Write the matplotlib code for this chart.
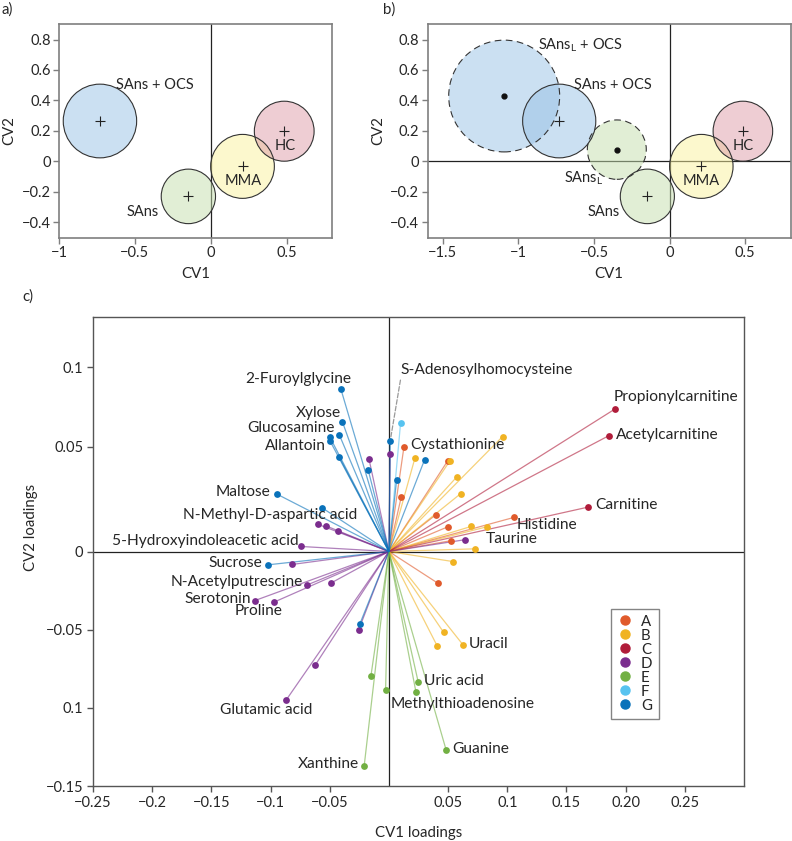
import matplotlib
matplotlib.use('Agg')
import matplotlib.pyplot as plt
from matplotlib.patches import Circle
from matplotlib.lines import Line2D

plt.rcParams['font.family'] = ['Lato', 'DejaVu Sans']
TXT = '#262626'
SPINE = '#7f7f7f'

# ---------------- Panels a / b : group centroids (CV1, CV2) and radii ----------------
grp_names = ['SAns + OCS', 'SAns', 'MMA', 'HC']
grp_x = [-0.73, -0.147, 0.21, 0.485]
grp_y = [0.265, -0.23, -0.033, 0.198]
grp_r = [0.242, 0.179, 0.21, 0.197]
grp_fill = [(0.60, 0.76, 0.90, 0.5), (0.77, 0.87, 0.68, 0.5),
            (0.98, 0.95, 0.61, 0.5), (0.87, 0.61, 0.66, 0.5)]

# extra groups in panel b (dashed circles)
grpL_names = ['SAns$_\\mathregular{L}$ + OCS', 'SAns$_\\mathregular{L}$']
grpL_x = [-1.094, -0.349]
grpL_y = [0.429, 0.077]
grpL_r = [0.367, 0.195]
grpL_fill = [(0.60, 0.76, 0.90, 0.5), (0.77, 0.87, 0.68, 0.5)]

# label placement for panels (in data units, same units as the axes)
lab_a = {'SAns + OCS': (-0.368, 0.50), 'SAns': (-0.45, -0.33), 'MMA': (0.215, -0.132), 'HC': (0.49, 0.10)}
lab_b = {'SAns + OCS': (-0.373, 0.50), 'SAns': (-0.434, -0.33), 'MMA': (0.208, -0.132), 'HC': (0.489, 0.104),
         'SAns$_\\mathregular{L}$ + OCS': (-0.59, 0.76), 'SAns$_\\mathregular{L}$': (-0.57, -0.11)}

# ---------------- Panel c : CV loadings by class ----------------
classes = ['A', 'B', 'C', 'D', 'E', 'F', 'G']
class_colors = ['#e05a2b', '#f0b323', '#b01c3a', '#7b2d8e', '#72b043', '#57c3f0', '#0a72ba']

A_names = ['Cystathionine', '', '', '', '', 'Histidine', '', '']
A_x = [0.0127, 0.0496, 0.0104, 0.0397, 0.0498, 0.1056, 0.0524, 0.0414]
A_y = [0.0669, 0.0579, 0.0348, 0.0235, 0.0158, 0.0218, 0.0069, -0.0203]

B_names = ['', '', '', '', '', '', '', 'Taurine', '', '', '', 'Uracil']
B_x = [0.0220, 0.0960, 0.0513, 0.0572, 0.0606, 0.0693, 0.0828, 0.0724, 0.0538, 0.0462, 0.0408, 0.0625]
B_y = [0.0598, 0.0735, 0.0577, 0.0476, 0.0370, 0.0160, 0.0158, 0.0017, -0.0064, -0.0517, -0.0604, -0.0596]

C_names = ['Propionylcarnitine', 'Acetylcarnitine', 'Carnitine']
C_x = [0.1911, 0.1861, 0.1683]
C_y = [0.0912, 0.0742, 0.0284]

D_names = ['', '', 'N-Methyl-D-aspartic acid', '', '', '5-Hydroxyindoleacetic acid', '', '',
           'N-Acetylputrescine', '', 'Serotonin', 'Proline', '', '', 'Glutamic acid']
D_x = [-0.0169, 0.0011, -0.0597, -0.0535, -0.0428, -0.0739, 0.0639, -0.0819,
       -0.0688, -0.0490, -0.1133, -0.0974, -0.0256, -0.0622, -0.0867]
D_y = [0.0594, 0.0624, 0.0173, 0.0165, 0.0128, 0.0032, 0.0075, -0.0083,
       -0.0213, -0.0202, -0.0314, -0.0325, -0.0502, -0.0726, -0.0949]

E_names = ['', '', 'Uric acid', 'Methylthioadenosine', 'Guanine', 'Xanthine']
E_x = [-0.0152, -0.0028, 0.0247, 0.0228, 0.0484, -0.0209]
E_y = [-0.0797, -0.0885, -0.0833, -0.0897, -0.1271, -0.1372]

F_names = ['']
F_x = [0.0099]
F_y = [0.0825]

G_names = ['2-Furoylglycine', 'Xylose', 'Glucosamine', '', 'Allantoin', '', '', 'Maltose', '',
           'S-Adenosylhomocysteine', '', '', 'Sucrose', '']
G_x = [-0.0405, -0.0393, -0.0420, -0.0501, -0.0496, -0.0420, -0.0175, -0.0946, -0.0566,
       0.0011, 0.0065, 0.0302, -0.1019, -0.0247]
G_y = [0.1037, 0.0830, 0.0748, 0.0735, 0.0705, 0.0604, 0.0521, 0.0367, 0.0280,
       0.0708, 0.0457, 0.0588, -0.0085, -0.0466]

c_names = [A_names, B_names, C_names, D_names, E_names, F_names, G_names]
c_x = [A_x, B_x, C_x, D_x, E_x, F_x, G_x]
c_y = [A_y, B_y, C_y, D_y, E_y, F_y, G_y]

# label offsets (pixels right, pixels up) and alignment
lab_off = {
    '2-Furoylglycine': (10.7, 10.3, 'right'), 'Xylose': (-1.5, 9.2, 'right'),
    'Glucosamine': (-5, 6.6, 'right'), 'Allantoin': (-4.3, -5, 'right'),
    'Maltose': (-6.7, 2, 'right'), 'N-Methyl-D-aspartic acid': (39, 9, 'right'),
    '5-Hydroxyindoleacetic acid': (-3.2, 5.3, 'right'), 'Sucrose': (-6, 1.6, 'right'),
    'N-Acetylputrescine': (-4.2, 2.5, 'right'), 'Serotonin': (-4.1, 1.7, 'right'),
    'Proline': (8.6, -8.6, 'right'), 'Glutamic acid': (-20.4, -10, 'center'),
    'Xanthine': (-5, 2, 'right'), 'Uric acid': (6, 1, 'left'),
    'Methylthioadenosine': (-25.3, -12.7, 'left'), 'Guanine': (6, 1, 'left'),
    'Uracil': (6.3, 0.7, 'left'), 'S-Adenosylhomocysteine': (10.7, 70.5, 'left'),
    'Cystathionine': (6, 1.7, 'left'), 'Propionylcarnitine': (-1.3, 12, 'left'),
    'Acetylcarnitine': (6.4, 1, 'left'), 'Carnitine': (7.4, 1.7, 'left'),
    'Histidine': (2.7, -8, 'left'), 'Taurine': (11.3, 9.6, 'left'),
}

xticks_c = [-0.25, -0.2, -0.15, -0.1, -0.05, 0.05, 0.1, 0.15, 0.2, 0.25]
xticklabels_c = ['\u22120.25', '\u22120.2', '\u22120.15', '\u22120.1', '\u22120.05',
                 '0.05', '0.1', '0.15', '0.20', '0.25']
# tick label positions as they appear in the original figure
yticks_c = [0.118, 0.067, 0, -0.05, -0.1, -0.15]
yticklabels_c = ['0.1', '0.05', '0', '\u22120.05', '0.1', '\u22120.15']

# ---------------------------------------------------------------------------
W, H = 792, 841
fig = plt.figure(figsize=(W / 100, H / 100), dpi=100)

def fr(l, t, r, b):
    return [l / W, 1 - b / H, (r - l) / W, (b - t) / H]

FS = 10.5      # tick labels, panel a/b labels
FSL = 11.2     # metabolite labels in panel c
FSA = 10.8     # axis titles

def style_ab(ax, xt):
    ax.set_ylim(-0.5, 0.9)
    ax.set_yticks([-0.4, -0.2, 0, 0.2, 0.4, 0.6, 0.8])
    ax.set_yticklabels(['\u22120.4', '\u22120.2', '0', '0.2', '0.4', '0.6', '0.8'])
    ax.set_xticks(xt)
    ax.set_xticklabels([('%g' % v).replace('-', '\u2212') for v in xt])
    for s in ax.spines.values():
        s.set_color(SPINE)
        s.set_linewidth(1.2)
    ax.tick_params(direction='out', length=4, width=1, color=SPINE, labelsize=FS, labelcolor=TXT, pad=2)
    ax.set_xlabel('CV1', fontsize=FSA, color=TXT, labelpad=5)
    ax.set_ylabel('CV2', fontsize=FSA, color=TXT, labelpad=4)
    ax.axvline(0, color='#222222', lw=0.9, zorder=0.5)

def draw_groups(ax, labs):
    for n, x, y, r, c in zip(grp_names, grp_x, grp_y, grp_r, grp_fill):
        ax.add_patch(Circle((x, y), r, facecolor=c, edgecolor='none', zorder=1))
        ax.add_patch(Circle((x, y), r, facecolor='none', edgecolor='#333333', lw=0.8, zorder=3))
        ax.plot(x, y, marker='+', color='#222222', ms=7, mew=0.8, zorder=4)
        lx, ly = labs[n]
        ax.text(lx, ly, n, fontsize=FS, color=TXT, ha='center', va='center', zorder=5)

# Panel a
axa = fig.add_axes(fr(59, 24.3, 332, 237.5))
axa.set_xlim(-1, 0.8)
style_ab(axa, [-1, -0.5, 0, 0.5])
draw_groups(axa, lab_a)

# Panel b
axb = fig.add_axes(fr(427.7, 24.3, 790.5, 237.5))
axb.set_xlim(-1.6, 0.8)
style_ab(axb, [-1.5, -1, -0.5, 0, 0.5])
axb.axhline(0, color='#222222', lw=0.9, zorder=0.5)
for n, x, y, r, c in zip(grpL_names, grpL_x, grpL_y, grpL_r, grpL_fill):
    axb.add_patch(Circle((x, y), r, facecolor=c, edgecolor='none', zorder=1))
    axb.add_patch(Circle((x, y), r, facecolor='none', edgecolor='#333333', lw=0.8,
                         linestyle=(0, (6, 4)), zorder=3))
    axb.plot(x, y, marker='o', color='#111111', ms=3.5, zorder=4)
    lx, ly = lab_b[n]
    axb.text(lx, ly, n, fontsize=FS, color=TXT, ha='center', va='center', zorder=5)
draw_groups(axb, lab_b)

fig.text(1 / W, 1 - 10 / H, 'a)', fontsize=FSA, color=TXT, va='center', ha='left')
fig.text(383 / W, 1 - 10 / H, 'b)', fontsize=FSA, color=TXT, va='center', ha='left')

# Panel c
axc = fig.add_axes(fr(93, 317, 744, 786))
axc.set_xlim(-0.25, 0.30)
axc.set_ylim(-0.15, 0.15)
axc.axhline(0, color='#222222', lw=0.9, zorder=0.5)
axc.axvline(0, color='#222222', lw=0.9, zorder=0.5)
px2pt = 0.72
for names, xs, ys, col in zip(c_names, c_x, c_y, class_colors):
    for n, x, y in zip(names, xs, ys):
        axc.plot([0, x], [0, y], color=col, lw=0.9, alpha=0.6, zorder=1, solid_capstyle='butt')
    axc.scatter(xs, ys, s=24, color=col, zorder=3, linewidths=0)
    for n, x, y in zip(names, xs, ys):
        if not n:
            continue
        dx, dy, ha = lab_off[n]
        if n == 'S-Adenosylhomocysteine':
            axc.annotate(n, xy=(x, y), xytext=(dx * px2pt, dy * px2pt), textcoords='offset points',
                         fontsize=FSL, color=TXT, ha=ha, va='center', zorder=5,
                         arrowprops=dict(arrowstyle='-', color='#999999', lw=0.9, linestyle='--',
                                         shrinkA=0, shrinkB=3, relpos=(0.0, 0.0)))
        else:
            axc.annotate(n, xy=(x, y), xytext=(dx * px2pt, dy * px2pt), textcoords='offset points',
                         fontsize=FSL, color=TXT, ha=ha, va='center', zorder=5)

axc.set_xticks(xticks_c)
axc.set_xticklabels(xticklabels_c)
axc.set_yticks(yticks_c)
axc.set_yticklabels(yticklabels_c)
for s in axc.spines.values():
    s.set_color('#555555')
    s.set_linewidth(1.0)
axc.tick_params(direction='out', length=4, width=1, color='#555555', labelsize=FS, labelcolor=TXT, pad=3)
axc.set_xlabel('CV1 loadings', fontsize=FSA, color=TXT, labelpad=12)
axc.set_ylabel('CV2 loadings', fontsize=FSA, color=TXT)
axc.yaxis.set_label_coords(-0.0845, 0.552)

handles = [Line2D([], [], marker='o', ls='none', color=c, ms=6.5) for c in class_colors]
leg = axc.legend(handles, classes, loc='upper left', bbox_to_anchor=(0.7957, 0.378), frameon=True,
                 fancybox=False, fontsize=FSA, labelspacing=0.0, handlelength=1.0, handletextpad=0.6,
                 borderpad=0.4, borderaxespad=0, labelcolor=TXT)
leg.get_frame().set_edgecolor('#666666')
leg.get_frame().set_linewidth(1.0)

fig.text(22 / W, 1 - 297 / H, 'c)', fontsize=FSA, color=TXT, va='center', ha='left')

fig.savefig('out.png', dpi=100)
